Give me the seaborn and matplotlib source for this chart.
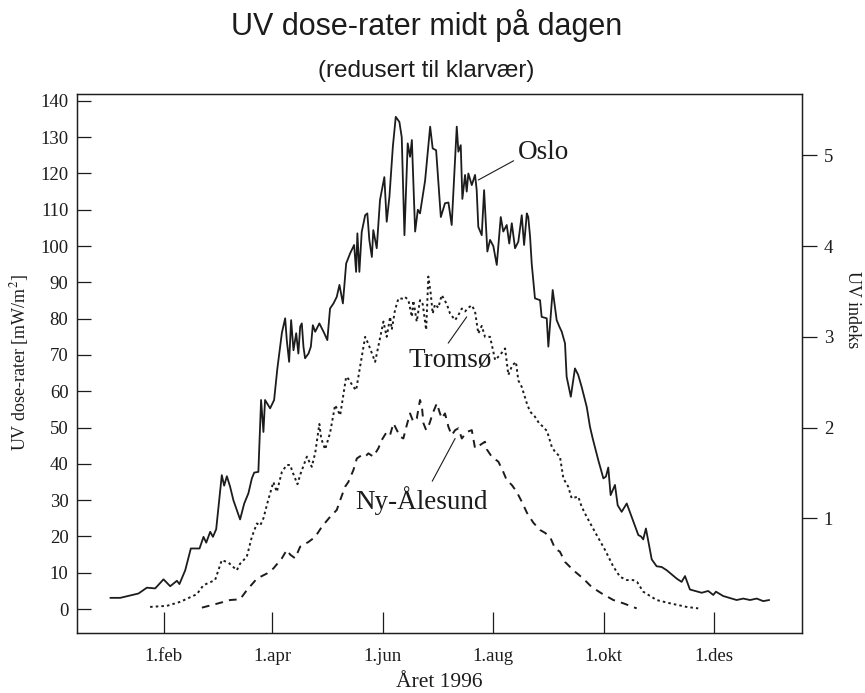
import matplotlib
matplotlib.use("Agg")
import matplotlib.pyplot as plt
import seaborn as sns

# ---- data (day of year 1996, UV dose-rate mW/m^2) ----
oslo_day = [2.5, 8.0, 18.1, 22.7, 27.3, 31.9, 35.6, 39.3, 40.7, 43.9, 47.0, 51.8, 54.0, 55.5, 57.7,
            59.2, 61.0, 64.1, 65.4, 66.9, 68.7, 70.5, 74.2, 76.5, 78.8, 80.7, 82.0, 84.3, 85.8, 87.1,
            88.0, 90.8, 93.0, 94.8, 97.3, 99.1, 100.0, 101.3, 102.4, 103.7, 105.2, 106.4, 107.4, 108.3,
            109.2, 110.1, 112.0, 113.3, 114.4, 115.7, 118.0, 119.4, 120.6, 122.4, 123.9, 125.8, 127.6,
            129.1, 131.0, 132.8, 135.0, 137.2, 138.3, 139.0, 140.1, 141.4, 143.3, 144.5, 145.6, 147.0,
            147.8, 149.7, 151.5, 153.9, 155.2, 156.7, 158.6, 160.2, 162.2, 163.5, 165.0, 166.8, 168.1,
            169.1, 170.9, 172.4, 173.6, 176.4, 179.2, 180.6, 182.5, 185.1, 187.4, 189.3, 191.1, 193.9,
            194.8, 196.1, 197.0, 198.5, 199.4, 200.3, 202.2, 204.0, 204.9, 205.8, 207.7, 209.0, 210.8,
            212.3, 214.1, 216.0, 218.2, 219.6, 221.5, 222.9, 224.3, 226.1, 227.9, 229.8, 231.1, 232.6,
            233.4, 234.4, 235.3, 237.1, 239.9, 240.8, 243.6, 244.5, 246.9, 249.1, 250.6, 251.9, 253.7,
            254.6, 256.9, 259.2, 261.0, 262.9, 265.7, 267.5, 269.0, 272.1, 274.9, 276.3, 277.6, 278.9,
            281.3, 282.8, 285.0, 287.8, 294.2, 295.7, 296.9, 298.4, 301.6, 304.3, 307.1, 309.9, 315.4,
            318.1, 320.0, 322.7, 325.5, 329.2, 332.8, 335.6, 337.1, 341.1, 348.5, 352.2, 355.9, 359.6,
            363.2, 366.5]
oslo_val = [3.1, 3.1, 4.3, 5.9, 5.7, 8.2, 6.3, 7.8, 6.9, 10.7, 16.7, 16.7, 19.9, 18.3, 21.3,
            19.9, 22.0, 36.9, 34.0, 36.6, 33.7, 30.0, 24.7, 29.1, 31.9, 36.0, 37.6, 37.8, 57.6, 48.8,
            57.6, 55.3, 57.6, 66.3, 76.1, 80.1, 74.1, 68.1, 79.6, 71.3, 76.0, 70.4, 77.8, 78.7,
            72.3, 69.1, 70.4, 72.3, 78.2, 76.4, 78.7, 77.3, 76.1, 74.1, 82.8, 84.2, 86.0,
            89.3, 84.2, 95.2, 98.0, 100.3, 92.9, 103.5, 92.9, 103.9, 108.5, 109.0, 101.7, 97.0,
            104.4, 99.4, 112.7, 119.0, 106.7, 113.6, 127.4, 135.6, 134.2, 130.0, 103.0, 128.3, 124.6,
            129.2, 104.0, 110.0, 109.0, 118.0, 132.9, 126.9, 126.4, 108.0, 111.8, 112.0, 105.8, 132.9,
            126.0, 127.8, 113.0, 119.6, 115.0, 120.0, 116.8, 119.6, 115.5, 105.3, 103.0, 115.4, 98.5,
            101.7, 100.0, 94.8, 108.0, 104.0, 105.8, 100.7, 106.3, 99.4, 101.2, 108.5, 100.3, 109.0,
            108.0, 102.6, 95.2, 85.6, 85.1, 80.5, 80.1, 72.3, 87.9, 79.6, 77.8, 76.4, 73.2,
            64.0, 58.5, 66.3, 64.5, 61.2, 55.7, 50.2, 47.0, 41.0, 36.0, 36.5, 39.0, 31.4,
            34.2, 28.6, 26.8, 29.1, 20.4, 20.0, 19.2, 22.2, 13.7, 11.8, 11.6, 10.7, 8.4,
            7.5, 9.1, 5.4, 5.0, 4.5, 5.0, 3.9, 4.8, 3.6, 2.5, 2.9, 2.5, 2.9,
            2.2, 2.5]

tromso_day = [24.5, 33.8, 41.1, 50.3, 54.0, 60.4, 64.1, 67.8, 72.4, 74.2, 77.9, 80.7, 83.5, 85.3,
              87.1, 89.7, 92.6, 94.5, 97.3, 100.0, 101.9, 103.0, 105.9, 107.4, 111.1, 113.8, 115.7,
              118.0, 119.0, 121.2, 123.9, 126.7, 129.5, 132.8, 133.9, 136.8, 138.3, 143.3, 145.1,
              148.8, 153.4, 155.2, 157.1, 158.0, 159.8, 161.7, 164.2, 165.3, 167.2, 169.1, 169.9,
              171.8, 173.6, 175.1, 177.0, 178.2, 179.5, 180.6, 181.9, 183.7, 185.6, 188.4, 190.2,
              193.0, 194.8, 196.7, 198.5, 200.3, 202.2, 204.0, 205.8, 207.7, 209.5, 212.3, 215.1,
              217.8, 220.6, 222.4, 224.4, 226.6, 227.9, 229.8, 232.6, 234.4, 237.1, 239.5, 241.7,
              243.8, 246.4, 248.2, 250.9, 252.8, 255.5, 257.4, 261.0, 262.9, 265.7, 271.2, 275.8,
              280.4, 284.1, 287.8, 291.3, 293.5, 296.9, 304.3, 311.7, 320.9, 327.3]
tromso_val = [0.6, 0.9, 2.0, 4.1, 6.6, 8.0, 13.5, 12.8, 10.7, 12.5, 14.4, 19.9, 23.6, 23.0,
              25.0, 30.0, 35.0, 32.3, 37.8, 39.7, 39.7, 38.0, 34.4, 37.0, 42.0, 39.2, 43.0,
              51.0, 47.0, 44.0, 48.5, 56.2, 53.4, 64.0, 63.5, 61.2, 60.3, 75.0, 73.0,
              68.1, 79.2, 75.0, 80.5, 77.0, 82.4, 85.6, 85.5, 86.0, 85.1, 80.5, 85.0,
              79.2, 85.1, 84.0, 76.9, 91.6, 87.0, 81.4, 84.0, 83.0, 86.5, 84.0, 81.4,
              79.6, 81.0, 82.8, 82.0, 83.0, 83.7, 82.0, 75.9, 78.0, 75.0, 75.0, 68.6,
              70.0, 71.8, 64.5, 67.0, 68.1, 63.0, 61.2, 56.7, 54.4, 53.0, 51.1, 50.2,
              49.0, 44.7, 43.3, 42.0, 36.0, 33.7, 30.5, 31.0, 28.2, 25.4, 20.4, 16.3,
              11.7, 8.9, 8.0, 8.0, 7.5, 4.8, 2.5, 1.6, 0.6, 0.2]

ny_day = [53.1, 62.3, 68.7, 74.2, 77.9, 83.5, 89.0, 92.6, 97.3, 100.0, 101.9, 104.6, 107.4, 112.0,
          115.7, 119.4, 123.9, 127.6, 129.5, 132.2, 134.0, 136.8, 138.7, 141.4, 143.3, 145.1, 147.8,
          150.6, 152.5, 155.2, 157.1, 158.9, 160.8, 162.6, 164.4, 166.3, 168.1, 169.9, 171.8, 173.6,
          174.6, 175.5, 177.0, 178.2, 179.4, 180.6, 182.9, 184.3, 185.6, 187.4, 189.3, 191.1, 193.0,
          194.8, 196.7, 199.4, 202.2, 204.0, 206.8, 209.5, 210.5, 213.2, 216.9, 219.6, 221.5, 224.3,
          227.0, 229.8, 232.7, 236.2, 239.9, 242.7, 245.4, 248.2, 250.9, 253.7, 258.3, 263.8, 268.4,
          274.0, 280.4, 285.9, 293.3]
ny_val = [0.4, 1.6, 2.5, 2.7, 5.2, 8.4, 9.8, 11.2, 14.0, 16.3, 15.0, 14.0, 17.2, 18.5,
          19.9, 22.7, 25.4, 27.3, 30.0, 33.7, 35.0, 38.3, 41.5, 42.4, 42.0, 42.9, 42.0,
          44.3, 46.6, 48.8, 48.0, 51.2, 49.3, 47.5, 47.0, 50.7, 53.9, 51.6, 52.5, 57.6,
          56.0, 51.2, 49.3, 50.2, 52.0, 53.9, 56.7, 54.4, 52.5, 53.9, 50.2, 47.9, 49.3,
          49.8, 47.0, 48.8, 49.3, 44.3, 45.2, 46.1, 44.0, 42.0, 40.6, 37.8, 35.5, 34.2,
          32.3, 29.6, 26.5, 23.8, 21.8, 21.0, 19.9, 16.7, 15.8, 13.0, 10.7, 8.4, 6.1,
          4.3, 2.5, 1.6, 0.2]

month_days = [32, 92, 153, 214, 275, 336]
month_labels = ["1.feb", "1.apr", "1.jun", "1.aug", "1.okt", "1.des"]
dose_ticks = list(range(0, 141, 10))
uv_ticks = [1, 2, 3, 4, 5]
UV_PER_INDEX = 25.0

# ---- style ----
sns.set_style("ticks")
plt.rcParams['font.family'] = ['Liberation Serif', 'DejaVu Serif']
plt.rcParams['mathtext.fontset'] = 'stix'
ink = '#1c1c1c'

fig = plt.figure(figsize=(8.65, 6.93), dpi=100)
W, H = 865.0, 693.0
ax = fig.add_axes([76.8 / W, 1 - 632.7 / H, (801.6 - 76.8) / W, (632.7 - 93.6) / H])

sns.lineplot(x=oslo_day, y=oslo_val, ax=ax, color=ink, lw=1.3, sort=False, estimator=None)
sns.lineplot(x=tromso_day, y=tromso_val, ax=ax, color=ink, lw=1.4,
             linestyle=(0, (1.3, 1.6)), sort=False, estimator=None)
sns.lineplot(x=ny_day, y=ny_val, ax=ax, color=ink, lw=1.4,
             linestyle=(0, (4.0, 3.2)), sort=False, estimator=None)

ymin, ymax = -6.5, 142.0
ax.set_xlim(-16, 384.4)
ax.set_ylim(ymin, ymax)
ax.set_xticks(month_days, month_labels)
ax.set_yticks(dose_ticks)
ax.tick_params(axis='x', direction='in', length=15, width=0.9, pad=11, labelsize=13.5, colors=ink)
ax.tick_params(axis='y', direction='in', length=10, width=0.9, pad=6, labelsize=13.5, colors=ink)
for s in ax.spines.values():
    s.set_linewidth(0.9)
    s.set_color(ink)
ax.set_xlabel("Året 1996", fontsize=15.5, color=ink, labelpad=6)
ax.set_ylabel("")

ax2 = ax.twinx()
ax2.set_ylim(ymin / UV_PER_INDEX, ymax / UV_PER_INDEX)
ax2.set_yticks(uv_ticks)
ax2.tick_params(axis='y', direction='out', length=11, width=0.9, pad=5, labelsize=13.5, colors=ink)
for s in ax2.spines.values():
    s.set_linewidth(0.9)
    s.set_color(ink)

fig.text(20 / W, 1 - 363 / H, "UV dose-rater [mW/m$^2$]", rotation=90, ha='center', va='center',
         fontsize=13, color=ink)
fig.text(852 / W, 1 - 310 / H, "UV indeks", rotation=270, ha='center', va='center',
         fontsize=13, color=ink)

fig.text(427 / W, 1 - 26 / H, "UV dose-rater midt på dagen", ha='center', va='center',
         fontsize=22, family='Liberation Sans', color=ink)
fig.text(426 / W, 1 - 71 / H, "(redusert til klarvær)", ha='center', va='center',
         fontsize=17.5, family='Liberation Sans', color=ink)

lead = dict(arrowstyle='-', lw=0.8, color=ink, shrinkA=1, shrinkB=0)
ax.annotate("Oslo", xy=(205.8, 118.2), xytext=(227.8, 125.9), ha='left', va='center',
            fontsize=19.5, color=ink, arrowprops=dict(lead, relpos=(0.0, 0.25)))
ax.annotate("Tromsø", xy=(199.4, 80.5), xytext=(190.2, 68.6), ha='center', va='center',
            fontsize=19.5, color=ink, arrowprops=dict(lead, relpos=(0.43, 0.95)))
ax.annotate("Ny-Ålesund", xy=(193.0, 47.0), xytext=(174.2, 30.0), ha='center', va='center',
            fontsize=19.5, color=ink, arrowprops=dict(lead, relpos=(0.56, 0.95)))

fig.savefig("out.png", dpi=100, facecolor='white')
